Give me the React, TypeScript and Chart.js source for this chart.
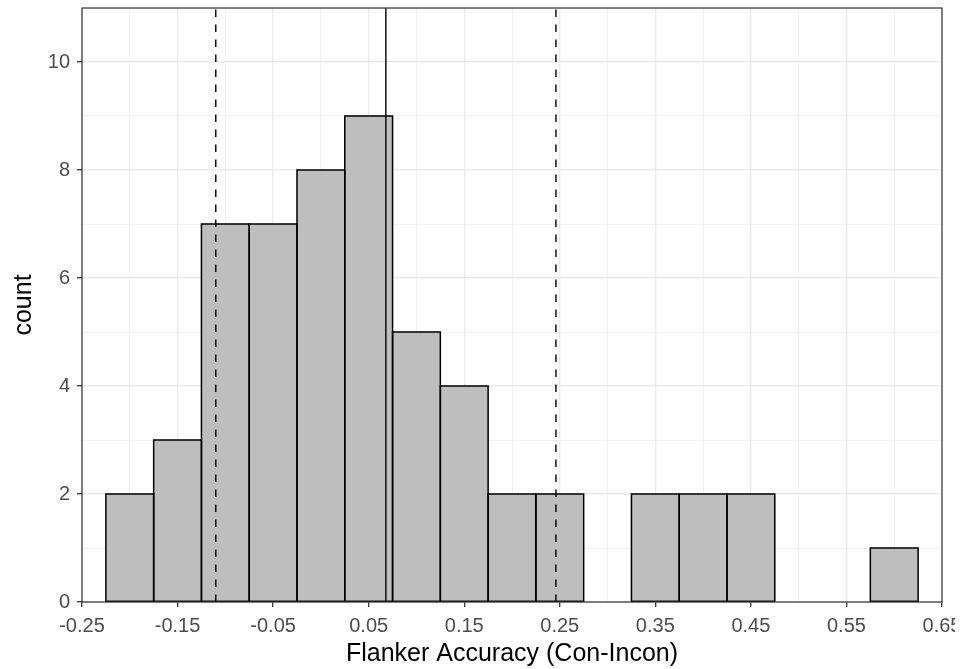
import React, { useEffect, useRef } from 'react';
import { Chart, registerables } from 'chart.js';

Chart.register(...registerables);

// ---- data ----
const binCenters = [-0.2, -0.15, -0.1, -0.05, 0, 0.05, 0.1, 0.15, 0.2, 0.25, 0.3, 0.35, 0.4, 0.45, 0.5, 0.55, 0.6];
const binCounts = [2, 3, 7, 7, 8, 9, 5, 4, 2, 2, 0, 2, 2, 2, 0, 0, 1];
const xMajorTicks = [-0.25, -0.15, -0.05, 0.05, 0.15, 0.25, 0.35, 0.45, 0.55, 0.65];
const xTickLabels = ['-0.25', '-0.15', '-0.05', '0.05', '0.15', '0.25', '0.35', '0.45', '0.55', '0.65'];
const xMinorTicks = [-0.2, -0.1, 0, 0.1, 0.2, 0.3, 0.4, 0.5, 0.6];
const yMajorTicks = [0, 2, 4, 6, 8, 10];
const yTickLabels = ['0', '2', '4', '6', '8', '10'];
const yMinorTicks = [1, 3, 5, 7, 9, 11];
const meanLine = 0.068;
const sdLines = [-0.11, 0.246];
const xTitle = 'Flanker Accuracy (Con-Incon)';
const yTitle = 'count';

const FONT = "'Liberation Sans', Arial, Helvetica, sans-serif";

const findIdx = (arr: number[], v: number) => arr.findIndex((t) => Math.abs(t - v) < 1e-9);

const overlayPlugin = {
  id: 'overlay',
  afterDatasetsDraw(chart: any) {
    const { ctx, chartArea, scales } = chart;
    ctx.save();
    // bar outlines (ggplot-style, centred on edges)
    const meta = chart.getDatasetMeta(0);
    ctx.strokeStyle = '#000000';
    ctx.lineWidth = 1.5;
    meta.data.forEach((el: any) => {
      const p = el.getProps(['x', 'y', 'base', 'width'], true);
      const left = p.x - p.width / 2;
      ctx.strokeRect(left, p.y, p.width, p.base - p.y);
    });
    // mean line
    ctx.beginPath();
    const mx = scales.x.getPixelForValue(meanLine);
    ctx.lineWidth = 1.4;
    ctx.setLineDash([]);
    ctx.moveTo(mx, chartArea.bottom);
    ctx.lineTo(mx, chartArea.top);
    ctx.stroke();
    // sd lines
    ctx.setLineDash([7.5, 7.5]);
    sdLines.forEach((v) => {
      const px = scales.x.getPixelForValue(v);
      ctx.beginPath();
      ctx.moveTo(px, chartArea.bottom);
      ctx.lineTo(px, chartArea.top);
      ctx.stroke();
    });
    ctx.setLineDash([]);
    // panel border
    ctx.strokeStyle = '#333333';
    ctx.lineWidth = 1.2;
    ctx.strokeRect(chartArea.left, chartArea.top, chartArea.right - chartArea.left, chartArea.bottom - chartArea.top);
    ctx.restore();
  },
};

export default function App() {
  const canvasRef = useRef<HTMLCanvasElement | null>(null);

  useEffect(() => {
    if (!canvasRef.current) return;
    const points = binCenters
      .map((c, i) => ({ x: c, y: binCounts[i] }))
      .filter((p) => p.y > 0);

    const tickFont = (major: boolean) =>
      major ? { family: FONT, size: 20, lineHeight: 1.2 } : { family: FONT, size: 20, lineHeight: 0.01 };

    const chart = new Chart(canvasRef.current, {
      type: 'bar',
      data: {
        datasets: [
          {
            data: points as any,
            backgroundColor: '#BEBEBE',
            borderWidth: 0,
            barPercentage: 1,
            categoryPercentage: 1,
          },
        ],
      },
      options: {
        responsive: false,
        animation: false,
        events: [],
        layout: { padding: { top: 8, right: 29, left: 0, bottom: 0 } },
        plugins: {
          legend: { display: false },
          tooltip: { enabled: false },
        },
        scales: {
          x: {
            type: 'linear',
            min: -0.25,
            max: 0.65,
            offset: false,
            afterBuildTicks: (scale: any) => {
              scale.ticks = [...xMajorTicks, ...xMinorTicks].sort((a, b) => a - b).map((v) => ({ value: v }));
            },
            afterFit: (scale: any) => {
              scale.height = 67;
            },
            grid: {
              offset: false,
              drawTicks: true,
              tickLength: 5,
              color: '#EBEBEB',
              lineWidth: (c: any) => (findIdx(xMajorTicks, c.tick?.value) >= 0 ? 1.4 : 0.7),
              tickColor: (c: any) => (findIdx(xMajorTicks, c.tick?.value) >= 0 ? '#333333' : 'rgba(0,0,0,0)'),
              tickWidth: 1.3,
            },
            border: { display: false },
            ticks: {
              autoSkip: false,
              maxRotation: 0,
              minRotation: 0,
              padding: 7,
              color: '#4D4D4D',
              font: { family: FONT, size: 20 },
              callback: (v: any) => {
                const i = findIdx(xMajorTicks, Number(v));
                return i >= 0 ? xTickLabels[i] : '';
              },
            },
            title: {
              display: true,
              text: xTitle,
              color: '#000000',
              font: { family: FONT, size: 25 },
              padding: { top: 0, bottom: 0 },
            },
          },
          y: {
            type: 'linear',
            min: 0,
            max: 11,
            afterBuildTicks: (scale: any) => {
              scale.ticks = [...yMajorTicks, ...yMinorTicks].sort((a, b) => a - b).map((v) => ({ value: v }));
            },
            afterFit: (scale: any) => {
              scale.width = 82;
            },
            grid: {
              drawTicks: true,
              tickLength: 5,
              color: '#EBEBEB',
              lineWidth: (c: any) => (findIdx(yMajorTicks, c.tick?.value) >= 0 ? 1.4 : 0.7),
              tickColor: (c: any) => (findIdx(yMajorTicks, c.tick?.value) >= 0 ? '#333333' : 'rgba(0,0,0,0)'),
              tickWidth: 1.3,
            },
            border: { display: false },
            ticks: {
              autoSkip: false,
              padding: 7,
              color: '#4D4D4D',
              font: (c: any) => tickFont(findIdx(yMajorTicks, c.tick?.value) >= 0),
              callback: (v: any) => {
                const i = findIdx(yMajorTicks, Number(v));
                return i >= 0 ? yTickLabels[i] : '';
              },
            },
            title: {
              display: true,
              text: yTitle,
              color: '#000000',
              font: { family: FONT, size: 25 },
              padding: { top: 9, bottom: 0 },
            },
          },
        },
      },
      plugins: [overlayPlugin],
    });
    return () => chart.destroy();
  }, []);

  return (
    <div
      style={{
        position: 'absolute',
        left: 0,
        top: 0,
        width: 955,
        height: 669,
        overflow: 'hidden',
        background: '#FFFFFF',
      }}
    >
      <canvas ref={canvasRef} width={971} height={669} style={{ display: 'block' }} />
    </div>
  );
}
